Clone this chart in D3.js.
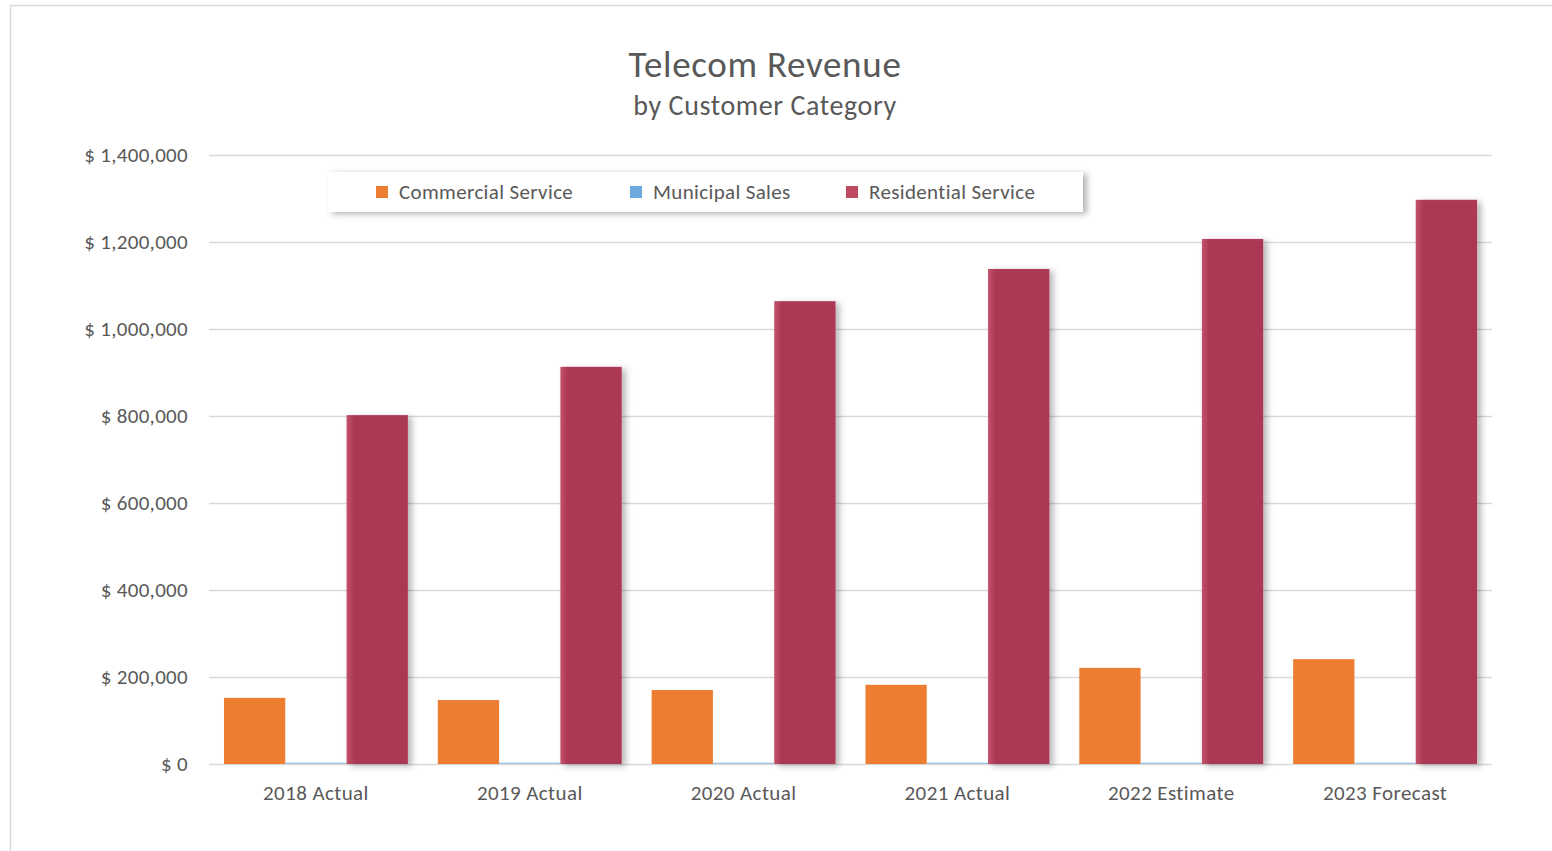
<!DOCTYPE html>
<html><head><meta charset="utf-8">
<script src="https://cdn.jsdelivr.net/npm/d3@7"></script>
<style>body{margin:0;background:#fff;}svg{display:block;font-family:Carlito,Lato,"Open Sans",sans-serif;}</style>
</head><body><svg id="c" width="1552" height="851"></svg>
<script>
const categories = ["2018 Actual","2019 Actual","2020 Actual","2021 Actual","2022 Estimate","2023 Forecast"];
const seriesNames = ["Commercial Service","Municipal Sales","Residential Service"];
const commercial = [152000,147000,170000,182000,221000,241000];
const municipal = [3000,3000,3000,3000,3000,3000];
const residential = [802000,913000,1064000,1138000,1207000,1297000];
const yTicks = [0,200000,400000,600000,800000,1000000,1200000,1400000];
const colors = ["#ED7D31","#9DC3E6","#A8304C"];
const legendColors = ["#ED7D31","#6FA8DC","#BE4A62"];

const svg = d3.select("#c");
const defs = svg.append("defs");
const f = defs.append("filter").attr("id","sh").attr("x","-20%").attr("y","-20%").attr("width","150%").attr("height","150%");
f.append("feDropShadow").attr("dx",4).attr("dy",2).attr("stdDeviation",3).attr("flood-color","#000").attr("flood-opacity",0.3);
const g1 = defs.append("linearGradient").attr("id","rg").attr("x1","0").attr("x2","1").attr("y1","0").attr("y2","0");
g1.append("stop").attr("offset","0").attr("stop-color","#C04862");
g1.append("stop").attr("offset","0.12").attr("stop-color",colors[2]);
g1.append("stop").attr("offset","1").attr("stop-color",colors[2]);

// outer border
svg.append("rect").attr("x",10.5).attr("y",5.5).attr("width",1600).attr("height",900).attr("fill","#fff").attr("stroke","#d9d9d9").attr("stroke-width",1.5);

const x0 = d3.scaleBand().domain(categories).range([209,1492]).paddingInner(0.14).paddingOuter(0.07);
const x1 = d3.scaleBand().domain(seriesNames).range([0,x0.bandwidth()]);
const y = d3.scaleLinear().domain([0,1400000]).range([764,155]);

// gridlines
svg.append("g").selectAll("line").data(yTicks).join("line")
  .attr("x1",209).attr("x2",1492).attr("y1",d=>y(d)+0.5).attr("y2",d=>y(d)+0.5)
  .attr("stroke","#d9d9d9").attr("stroke-width",1.3);

const FF = "Carlito,Lato,'Open Sans',sans-serif";
// y axis labels
const fmt = d3.format(",");
const yAxis = d3.axisLeft(y).tickValues(yTicks).tickSize(0).tickPadding(0).tickFormat(d=>"$ "+fmt(d));
const ya = svg.append("g").attr("transform","translate(188,0)").call(yAxis);
ya.select(".domain").remove();
ya.selectAll("text").attr("fill","#595959").attr("font-size",21).attr("letter-spacing",0.3).attr("font-family",FF);

// x axis labels
const xAxis = d3.axisBottom(x0).tickSize(0).tickPadding(0);
const xa = svg.append("g").attr("transform","translate(0,785)").call(xAxis);
xa.select(".domain").remove();
xa.selectAll("text").attr("fill","#595959").attr("font-size",21).attr("letter-spacing",0.4).attr("font-family",FF);

const series = [commercial, municipal, residential];
const gs = svg.append("g").selectAll("g").data(categories).join("g").attr("transform",d=>`translate(${x0(d)},0)`);
gs.selectAll("rect").data((d,i)=>seriesNames.map((s,j)=>({s,j,v:series[j][i]}))).join("rect")
  .attr("x",d=>x1(d.s)).attr("width",x1.bandwidth())
  .attr("y",d=>y(d.v)).attr("height",d=>y(0)-y(d.v))
  .attr("fill",d=>d.j===2?"url(#rg)":colors[d.j])
  .attr("fill-opacity",d=>d.j===2?0.94:1)
  .attr("filter",d=>d.j===2?"url(#sh)":null);

// title
svg.append("text").attr("x",765).attr("y",77).attr("text-anchor","middle").attr("font-size",37).attr("letter-spacing",0.7).attr("fill","#595959").text("Telecom Revenue");
svg.append("text").attr("x",765).attr("y",115).attr("text-anchor","middle").attr("font-size",28).attr("letter-spacing",0.6).attr("fill","#595959").text("by Customer Category");

// legend
const lg = svg.append("g");
lg.append("rect").attr("x",328).attr("y",172).attr("width",755).attr("height",40).attr("fill","#fff").attr("filter","url(#sh)");
const lx = [376,630,846];
const li = lg.selectAll("g").data(seriesNames).join("g").attr("transform",(d,i)=>`translate(${lx[i]},192)`);
li.append("rect").attr("x",0).attr("y",-6).attr("width",12).attr("height",12).attr("fill",(d,i)=>legendColors[i]);
li.append("text").attr("x",23).attr("y",0).attr("dy","0.35em").attr("font-size",21).attr("letter-spacing",0.35).attr("fill","#595959").text(d=>d);
</script></body></html>
